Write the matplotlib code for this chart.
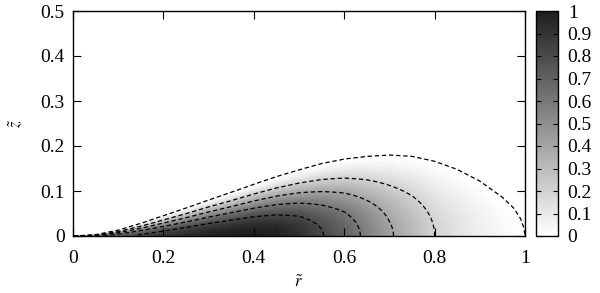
import numpy as np
import matplotlib
matplotlib.use("Agg")
import matplotlib.pyplot as plt
from matplotlib.colors import LinearSegmentedColormap

plt.rcParams['font.family'] = 'serif'
plt.rcParams['font.serif'] = ['Liberation Serif', 'DejaVu Serif']
plt.rcParams['mathtext.fontset'] = 'stix'

# ---- data ----
# radial sample positions
r_samples = [0.0, 0.05, 0.10, 0.15, 0.20, 0.25, 0.30, 0.35, 0.40, 0.45, 0.50,
             0.55, 0.60, 0.65, 0.70, 0.75, 0.80, 0.85, 0.90, 0.95, 0.975, 0.99, 0.998, 1.0]
# midplane (z=0) normalised density
rho_mid = [0.30, 0.55, 0.72, 0.82, 0.88, 0.93, 0.97, 0.99, 1.00, 0.98, 0.92,
           0.81, 0.70, 0.56, 0.42, 0.31, 0.20, 0.13, 0.07, 0.03, 0.015, 0.006, 0.001, 0.0]
# surface height (outermost dashed contour)
z_surface = [0.0, 0.003, 0.013, 0.028, 0.045, 0.062, 0.080, 0.097, 0.115, 0.132, 0.147,
             0.161, 0.171, 0.177, 0.180, 0.177, 0.166, 0.148, 0.122, 0.086, 0.062, 0.039, 0.017, 0.0]
contour_levels = [0.2, 0.4, 0.6, 0.8]
polytropic_index = 1.5

x_ticks = [0, 0.2, 0.4, 0.6, 0.8, 1]
x_ticklabels = ['0', '0.2', '0.4', '0.6', '0.8', '1']
y_ticks = [0, 0.1, 0.2, 0.3, 0.4, 0.5]
y_ticklabels = ['0', '0.1', '0.2', '0.3', '0.4', '0.5']
cb_ticks = [0, 0.1, 0.2, 0.3, 0.4, 0.5, 0.6, 0.7, 0.8, 0.9, 1]
cb_ticklabels = ['0', '0.1', '0.2', '0.3', '0.4', '0.5', '0.6', '0.7', '0.8', '0.9', '1']

# ---- build the field table from the samples ----
r = np.linspace(0, 1, 601)
z = np.linspace(0, 0.5, 301)
R, Z = np.meshgrid(r, z)
Rm = np.interp(r, r_samples, rho_mid)
H = np.interp(r, r_samples, z_surface)
Hs = np.where(H > 0, H, 1e-9)
q = np.clip(1.0 - (Z / Hs[None, :]) ** 2, 0, None)
field = Rm[None, :] * q ** polytropic_index

cmap = LinearSegmentedColormap.from_list('g', ['#ffffff', '#1e1e1e'])

fig = plt.figure(figsize=(6.0, 2.93), dpi=100)
ax = fig.add_axes([73/600, 57/293, 452/600, 225/293])
cax = fig.add_axes([536/600, 57/293, 22/600, 225/293])

im = ax.imshow(field, origin='lower', extent=[0, 1, 0, 0.5], aspect='auto',
               cmap=cmap, vmin=0, vmax=1, interpolation='bilinear')
ax.contour(R, Z, field, levels=contour_levels, colors='black',
           linewidths=0.9, linestyles=[(0, (3.5, 2.2))])
rf = np.linspace(0, 1, 400)
ax.plot(rf, np.interp(rf, r_samples, z_surface), color='black', lw=0.9,
        ls=(0, (3.5, 2.2)))

ax.set_xlim(0, 1)
ax.set_ylim(0, 0.5)
ax.set_xticks(x_ticks)
ax.set_xticklabels(x_ticklabels)
ax.set_yticks(y_ticks)
ax.set_yticklabels(y_ticklabels)
ax.tick_params(direction='in', length=5.5, width=0.8, top=True, right=True,
               labelsize=14)
ax.tick_params(axis='x', pad=10)
ax.tick_params(axis='y', pad=6)
for s in ax.spines.values():
    s.set_linewidth(1.0)
ax.set_xlabel(r'$\tilde{r}$', fontsize=12)
ax.xaxis.set_label_coords(0.5, -0.175)
ax.set_ylabel(r'$\tilde{z}$', fontsize=12)
ax.yaxis.set_label_coords(-0.107, 0.5)

cb = fig.colorbar(im, cax=cax, ticks=cb_ticks)
cb.set_ticklabels(cb_ticklabels)
cax.tick_params(direction='in', length=3.5, width=0.8, left=True, right=True,
                labelsize=14, pad=7)
cb.outline.set_linewidth(1.0)

fig.savefig('out.png', dpi=100)
